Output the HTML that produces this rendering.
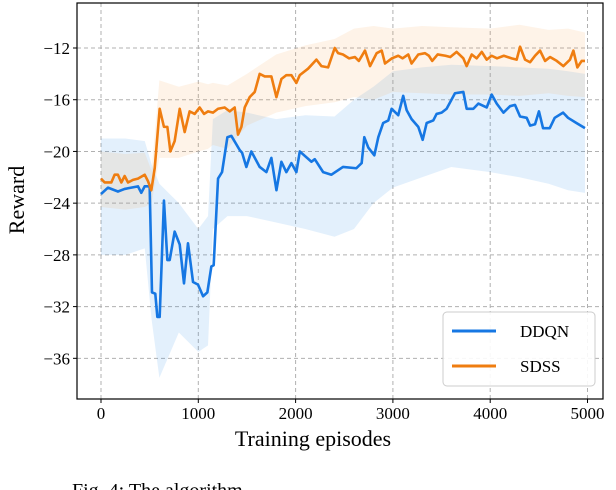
<!DOCTYPE html>
<html><head><meta charset="utf-8"><style>
html,body{margin:0;padding:0;background:#fff;width:616px;height:490px;overflow:hidden}
svg{display:block;font-family:"Liberation Serif",serif}
</style></head><body>
<svg id="chart" width="616" height="490"></svg>
<script>
const xTicks=[0,1000,2000,3000,4000,5000];
const yTicks=[-12,-16,-20,-24,-28,-32,-36];
const ddqnEp=[0,71,174,243,380,414,449,500,524,558,579,603,647,682,706,757,809,853,894,946,997,1049,1093,1134,1158,1203,1244,1299,1340,1426,1450,1494,1545,1631,1700,1751,1803,1854,1905,1957,2008,2043,2163,2197,2283,2368,2487,2624,2679,2706,2747,2809,2850,2900,2953,2987,3055,3106,3141,3192,3261,3306,3347,3415,3449,3501,3552,3638,3724,3758,3827,3878,3964,4015,4067,4136,4204,4255,4307,4375,4410,4461,4501,4543,4612,4663,4749,4800,4886,4974];
const ddqnVal=[-23.3,-22.8,-23.1,-22.9,-22.7,-23.2,-22.7,-22.7,-30.9,-31.0,-32.8,-32.8,-23.8,-28.4,-28.4,-26.2,-27.2,-30.2,-27.1,-30.1,-30.3,-31.2,-30.9,-28.9,-28.8,-22.1,-21.6,-18.9,-18.8,-19.9,-20.1,-21.2,-20.0,-21.2,-21.6,-20.5,-23.0,-20.8,-21.6,-20.9,-21.6,-20.0,-20.8,-20.6,-21.6,-21.8,-21.2,-21.3,-20.9,-18.9,-19.7,-20.3,-18.9,-17.8,-17.6,-16.7,-17.2,-15.7,-16.8,-17.5,-18.1,-19.1,-17.8,-17.6,-17.1,-17.0,-16.7,-15.5,-15.4,-16.7,-16.7,-16.3,-16.6,-15.6,-16.3,-17.0,-16.5,-16.4,-17.3,-17.4,-18.0,-17.9,-16.9,-18.2,-18.2,-17.4,-17.0,-17.4,-17.8,-18.2];
const sdssEp=[0,38,106,140,174,209,243,278,329,380,449,483,517,552,603,647,682,713,757,809,860,911,963,1014,1059,1100,1151,1203,1271,1323,1374,1408,1443,1477,1528,1580,1631,1683,1751,1803,1854,1905,1957,2008,2043,2128,2214,2265,2334,2402,2437,2487,2550,2610,2650,2713,2765,2833,2885,2919,2990,3055,3100,3158,3192,3261,3330,3370,3404,3460,3540,3590,3655,3724,3758,3810,3861,3913,3964,4015,4070,4140,4221,4272,4307,4358,4410,4461,4512,4564,4615,4684,4752,4820,4855,4896,4940,4974];
const sdssVal=[-22.1,-22.4,-22.4,-21.8,-21.8,-22.4,-21.9,-22.4,-22.2,-22.1,-21.8,-22.3,-23.0,-21.3,-16.7,-18.1,-18.1,-20.0,-19.2,-16.7,-18.5,-16.9,-17.1,-16.6,-17.1,-16.9,-17.0,-16.7,-16.6,-16.9,-16.6,-18.7,-18.1,-16.6,-15.8,-15.4,-14.0,-14.2,-14.2,-15.8,-14.4,-14.1,-14.1,-14.7,-14.1,-13.6,-12.9,-13.4,-13.5,-12.0,-12.4,-12.5,-12.8,-12.7,-13.0,-12.2,-13.4,-12.4,-12.2,-13.2,-12.8,-12.6,-12.8,-12.5,-13.2,-12.5,-12.4,-12.6,-13.0,-12.5,-12.6,-12.7,-12.3,-12.8,-13.4,-12.5,-12.8,-12.3,-12.9,-12.6,-12.8,-12.6,-12.8,-12.9,-11.9,-12.9,-13.1,-12.6,-12.2,-13.0,-12.7,-13.0,-13.4,-12.9,-12.2,-13.5,-13.0,-13.0];
const bandEp=[0,250,450,520,600,800,1000,1100,1150,1300,1500,1800,2100,2400,2600,2800,3000,3300,3600,4000,4300,4600,4800,4974];
const ddqnUp=[-19,-19,-19.2,-21,-22.5,-24,-26,-25,-17.5,-16.8,-17,-17.5,-17.2,-17.3,-16,-15,-13.8,-13.5,-13.3,-13.4,-13.5,-13.6,-13.8,-14];
const ddqnLo=[-28,-28,-27.5,-33,-37.5,-34,-35.5,-35,-26,-25,-25,-25.5,-26,-26.6,-26,-24,-22.8,-22,-21.2,-21.6,-22,-22.5,-23,-23.2];
const sdssUp=[-20,-20.2,-20.1,-21.5,-14.5,-15,-14.6,-14.8,-14.7,-14.9,-14,-12.5,-11.8,-11.3,-10.5,-10.3,-10.5,-10.3,-10.4,-10.5,-10.2,-10.6,-10.5,-10.8];
const sdssLo=[-24.3,-24.5,-24.3,-24,-20.5,-20.5,-20,-19.8,-19.5,-19.8,-18,-17,-16.5,-16.2,-15.8,-16,-15.4,-15.5,-15.6,-15.6,-15.7,-15.5,-15.7,-15.8];

const NS="http://www.w3.org/2000/svg";
const svg=document.getElementById('chart');
const L=77,R=603,T=3,B=399;
const X=e=>101+e*0.0973;
const Y=v=>48+(-12-v)*12.93;
function mk(tag,attrs,parent){const el=document.createElementNS(NS,tag);for(const k in attrs)el.setAttribute(k,attrs[k]);(parent||svg).appendChild(el);return el;}

// grid
xTicks.forEach(t=>{
 const g=mk('line',{x1:X(t),x2:X(t),y1:T,y2:B,stroke:'#b0b0b0','stroke-width':1,'stroke-dasharray':'4,3'});
 
 
});
yTicks.forEach(t=>{
 const g=mk('line',{x1:L,x2:R,y1:Y(t),y2:Y(t),stroke:'#b0b0b0','stroke-width':1,'stroke-dasharray':'4,3'});
 
 
});

function band(up,lo,color,name){
 let d='M'+bandEp.map((e,i)=>X(e)+','+Y(up[i])).join('L');
 for(let i=bandEp.length-1;i>=0;i--)d+='L'+X(bandEp[i])+','+Y(lo[i]);
 const p=mk('path',{d:d+'Z',fill:color,'fill-opacity':0.13,stroke:'none'});
 
 
}
band(ddqnUp,ddqnLo,'#2a8ce8','ddqn-std-band');
band(sdssUp,sdssLo,'#f5a050','sdss-std-band');

function line(ep,val,color,name){
 const p=mk('polyline',{points:ep.map((e,i)=>X(e)+','+Y(val[i])).join(' '),fill:'none',stroke:color,'stroke-width':2.6,'stroke-linejoin':'round'});
 
 
}
line(ddqnEp,ddqnVal,'#1677e3','ddqn-line');
line(sdssEp,sdssVal,'#ef7d10','sdss-line');

// frame
const fr=mk('rect',{x:L,y:T,width:R-L,height:B-T,fill:'none',stroke:'#000','stroke-width':1.2});



xTicks.forEach(t=>{
 mk('line',{x1:X(t),x2:X(t),y1:B,y2:B+4,stroke:'#000'});
 const tx=mk('text',{x:X(t),y:B+20,'text-anchor':'middle','font-size':17});
 tx.textContent=t;
 
 
});
yTicks.forEach(t=>{
 mk('line',{x1:L-4,x2:L,y1:Y(t),y2:Y(t),stroke:'#000'});
 const tx=mk('text',{x:L-7,y:Y(t)+6,'text-anchor':'end','font-size':17});
 tx.textContent='\u2212'+Math.abs(t);
 
 
});
</script>
<svg style="position:absolute;left:0;top:0" width="616" height="490">
 <text x="313" y="446" text-anchor="middle" font-size="22" font-family="Liberation Serif, serif">Training episodes</text>
 <text transform="translate(24,200) rotate(-90)" text-anchor="middle" font-size="22" font-family="Liberation Serif, serif">Reward</text>
 <g>
  <rect x="443" y="312" width="152" height="74" rx="4" fill="#fff" fill-opacity="0.9" stroke="#ccc"/>
  <line x1="452" y1="331" x2="496" y2="331" stroke="#1677e3" stroke-width="3"/>
  <text x="520" y="337" font-size="17" font-family="Liberation Serif, serif">DDQN</text>
  <line x1="452" y1="366" x2="496" y2="366" stroke="#ef7d10" stroke-width="3"/>
  <text x="520" y="372" font-size="17" font-family="Liberation Serif, serif">SDSS</text>
 </g>
 <text x="72" y="497" font-size="20" font-family="Liberation Serif, serif">Fig. 4: The algorithm</text>
</svg>
</body></html>
